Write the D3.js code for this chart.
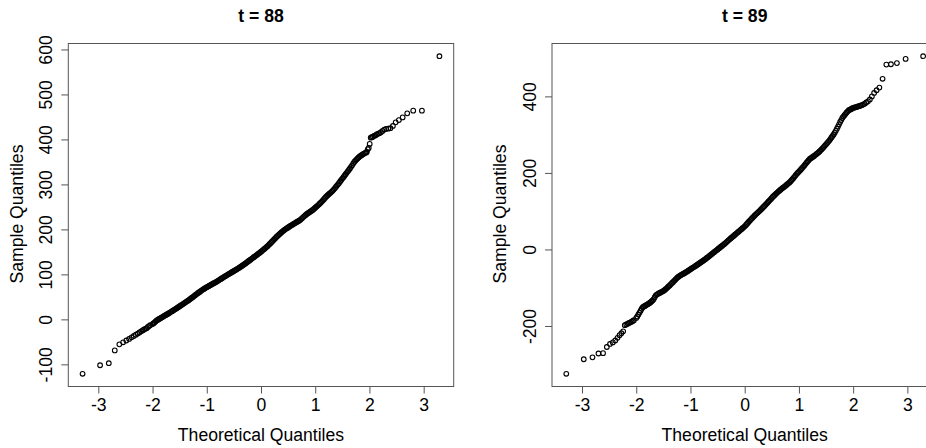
<!DOCTYPE html>
<html>
<head>
<meta charset="utf-8">
<script src="https://cdn.jsdelivr.net/npm/d3@7"></script>
<style>
body { margin: 0; background: #fff; }
text { font-family: "Liberation Sans", Arial, sans-serif; }
</style>
</head>
<body>
<svg id="chart" width="926" height="448"></svg>
<script>
// panel titles
var titles = ["t = 88", "t = 89"];

// theoretical quantiles (shared x positions)
var theoQ = [
    -3.2905, -2.9677, -2.8070, -2.6968, -2.6121, -2.5427, -2.4838, -2.4324, -2.3867, -2.3455,
    -2.3080, -2.2734, -2.2414, -2.2115, -2.1835, -2.1571, -2.1321, -2.1084, -2.0858, -2.0642, -2.0435,
    -2.00, -1.98, -1.96, -1.94, -1.92, -1.90, -1.88, -1.86, -1.84, -1.82,
    -1.80, -1.78, -1.76, -1.74, -1.72, -1.70, -1.68, -1.66, -1.64, -1.62,
    -1.60, -1.58, -1.56, -1.54, -1.52, -1.50, -1.48, -1.46, -1.44, -1.42,
    -1.40, -1.38, -1.36, -1.34, -1.32, -1.30, -1.28, -1.26, -1.24, -1.22,
    -1.20, -1.18, -1.16, -1.14, -1.12, -1.10, -1.08, -1.06, -1.04, -1.02,
    -1.00, -0.98, -0.96, -0.94, -0.92, -0.90, -0.88, -0.86, -0.84, -0.82,
    -0.80, -0.78, -0.76, -0.74, -0.72, -0.70, -0.68, -0.66, -0.64, -0.62,
    -0.60, -0.58, -0.56, -0.54, -0.52, -0.50, -0.48, -0.46, -0.44, -0.42,
    -0.40, -0.38, -0.36, -0.34, -0.32, -0.30, -0.28, -0.26, -0.24, -0.22,
    -0.20, -0.18, -0.16, -0.14, -0.12, -0.10, -0.08, -0.06, -0.04, -0.02,
    0.00, 0.02, 0.04, 0.06, 0.08, 0.10, 0.12, 0.14, 0.16, 0.18,
    0.20, 0.22, 0.24, 0.26, 0.28, 0.30, 0.32, 0.34, 0.36, 0.38,
    0.40, 0.42, 0.44, 0.46, 0.48, 0.50, 0.52, 0.54, 0.56, 0.58,
    0.60, 0.62, 0.64, 0.66, 0.68, 0.70, 0.72, 0.74, 0.76, 0.78,
    0.80, 0.82, 0.84, 0.86, 0.88, 0.90, 0.92, 0.94, 0.96, 0.98,
    1.00, 1.02, 1.04, 1.06, 1.08, 1.10, 1.12, 1.14, 1.16, 1.18,
    1.20, 1.22, 1.24, 1.26, 1.28, 1.30, 1.32, 1.34, 1.36, 1.38,
    1.40, 1.42, 1.44, 1.46, 1.48, 1.50, 1.52, 1.54, 1.56, 1.58,
    1.60, 1.62, 1.64, 1.66, 1.68, 1.70, 1.72, 1.74, 1.76, 1.78,
    1.80, 1.82, 1.84, 1.86, 1.88, 1.90, 1.92, 1.94,
    1.9515, 1.9686, 1.9863, 2.0047, 2.0237, 2.0435, 2.0642, 2.0858, 2.1084, 2.1321,
    2.1571, 2.1835, 2.2115, 2.2414, 2.2734, 2.3080, 2.3455, 2.3867, 2.4324, 2.4838,
    2.5427, 2.6121, 2.6968, 2.8070, 2.9677, 3.2905
];

// sample quantiles, t = 88
var samp88 = [
    -121, -102, -97.5, -69, -55.5, -51, -47, -43.5, -40, -37,
    -34, -31.5, -29, -26.5, -24.5, -22.5, -21, -19.5, -17, -15, -13,
    -10.5, -8.6, -6.5, -4.2, -2.2, -0.6, 0.8, 2.2, 3.6, 5.1,
    6.5, 8.0, 9.4, 10.8, 12.2, 13.6, 15.1, 16.7, 18.2, 19.8,
    21.3, 22.8, 24.4, 26.0, 27.6, 29.2, 30.8, 32.4, 34.0, 35.7,
    37.3, 39.0, 40.6, 42.2, 43.9, 45.8, 47.6, 49.4, 51.3, 53.2,
    55.1, 56.8, 58.6, 60.4, 62.1, 63.9, 65.6, 67.2, 68.7, 70.1,
    71.5, 73.0, 74.4, 75.7, 77.0, 78.4, 79.7, 81.0, 82.3, 83.7,
    85.2, 86.8, 88.4, 89.9, 91.4, 93.0, 94.5, 96.0, 97.4, 98.9,
    100.3, 101.8, 103.2, 104.7, 106.1, 107.6, 109.0, 110.4, 111.9, 113.4,
    115.0, 116.6, 118.2, 119.8, 121.4, 123.2, 125.0, 126.8, 128.6, 130.4,
    132.2, 134.0, 135.8, 137.6, 139.4, 141.2, 143.0, 144.8, 146.5, 148.4,
    150.3, 152.4, 154.5, 156.5, 158.5, 160.6, 162.8, 165.1, 167.5, 170.0,
    172.5, 175.0, 177.5, 180.0, 182.5, 184.9, 187.2, 189.4, 191.5, 193.6,
    195.6, 197.6, 199.5, 201.2, 202.8, 204.4, 206.0, 207.5, 209.0, 210.6,
    212.1, 213.6, 215.0, 216.4, 217.8, 219.3, 220.8, 223.0, 225.2, 227.4,
    229.5, 231.6, 233.7, 235.5, 237.2, 238.9, 240.6, 242.2, 243.9, 246.0,
    248.2, 250.3, 252.5, 254.7, 257.0, 259.4, 261.9, 264.5, 267.2, 269.9,
    272.6, 274.8, 277.0, 279.2, 281.4, 283.5, 285.7, 288.5, 291.3, 294.3,
    297.3, 300.3, 303.3, 306.5, 309.8, 313.0, 316.1, 319.3, 322.6, 325.8,
    329.0, 332.2, 335.4, 339.0, 342.5, 346.3, 350.0, 352.7, 355.2, 357.6,
    360.0, 362.0, 363.8, 365.5, 367.0, 368.5, 370.0, 371.0,
    372, 378, 381, 390, 404, 405, 406, 408, 409, 411,
    412.5, 414, 416, 419, 422, 423.5, 424, 425, 430, 438,
    443, 449, 458, 464, 464, 585
];

// sample quantiles, t = 89
var samp89 = [
    -325, -287, -282, -272, -271, -255, -247, -243, -238, -231,
    -224, -219, -214, -198, -196, -194, -192, -190.5, -189, -187, -185,
    -179, -175, -170, -165, -160, -155, -151, -149, -147.5, -145.8,
    -144, -142.3, -140.5, -138.4, -136, -133.5, -130.5, -125, -120, -118,
    -116, -114.5, -113, -111.5, -110, -108.3, -106.5, -104, -101.5, -98.8,
    -96, -93.3, -90.5, -87.6, -84.8, -81.9, -79, -76.2, -73.4, -71.2,
    -69, -67.4, -65.8, -64.2, -62.6, -60.9, -59.2, -57.4, -55.5, -53.5,
    -51.6, -49.8, -48, -46.1, -44.3, -42.4, -40.6, -38.7, -36.8, -34.8,
    -32.8, -30.8, -28.8, -26.8, -24.7, -22.4, -20.2, -17.9, -15.7, -13.4,
    -11.2, -8.9, -6.7, -4.4, -2.2, 0.1, 2.4, 4.7, 7, 9.2,
    11.5, 13.8, 16.1, 18.6, 21.2, 23.7, 26.3, 28.8, 31.3, 33.6,
    36, 38.4, 40.9, 43.3, 45.8, 48.1, 50.5, 52.9, 55.4, 57.9,
    60.4, 63.5, 66.6, 69.8, 73, 76.2, 79.3, 82.3, 85.3, 88.2,
    91, 93.7, 96.4, 99, 101.6, 104.4, 107.3, 110.2, 113.1, 116.1,
    119.2, 122.2, 125.3, 128.3, 131.4, 134.5, 137.7, 140.5, 143.2, 145.9,
    148.6, 151.2, 153.7, 156, 158.3, 160.5, 162.7, 165, 167.3, 169.7,
    172.1, 174.5, 177, 180.2, 183.5, 187, 190.5, 194, 197.5, 200.5,
    203.5, 206.6, 209.7, 212.8, 216, 219.5, 223, 226.5, 230, 233.3,
    236.5, 238.5, 240.5, 242.5, 244.5, 246.7, 249, 251.2, 253.5, 256.2,
    259, 262, 265, 268.2, 271.5, 274.7, 278, 281.2, 284.5, 288.5,
    292.5, 296.5, 300.5, 305.2, 310, 315.5, 321, 327, 333, 338.2,
    343.5, 347.3, 351, 354.5, 358, 361, 364, 365.5,
    366, 367, 369, 370, 371, 371.5, 372.5, 373.5, 374.5, 375.5,
    377, 378.5, 381, 384, 387, 392, 400, 409, 416, 423,
    446, 483, 484, 487, 498, 505
];

var xTicks = [-3, -2, -1, 0, 1, 2, 3];
var yTicks88 = [-100, 0, 100, 200, 300, 400, 500, 600];
var yTicks89 = [-200, 0, 200, 400];

var screen = {width: 926, height: 448};
var plot = {width: 385.4, top: 43.5, bottom: 386.5};
var fontSize = "17.6px";
var panels = [
    {left: 68.3, title: titles[0], samples: samp88, yTicks: yTicks88},
    {left: 552, title: titles[1], samples: samp89, yTicks: yTicks89}
];

// R style range: data extent widened by 4% each side
var padRange = function(values)
    {
        var ext = d3.extent(values);
        var pad = (ext[1] - ext[0]) * 0.04;
        return [ext[0] - pad, ext[1] + pad];
    };

var svg = d3.select("#chart")
    .attr("width", screen.width)
    .attr("height", screen.height);

svg.append("rect")
    .attr("width", screen.width)
    .attr("height", screen.height)
    .attr("fill", "#fff");

var drawPanel = function(p)
    {
        var g = svg.append("g")
            .attr("transform", "translate(" + p.left + ",0)");

        var xscale = d3.scaleLinear()
            .domain(padRange(theoQ))
            .range([0, plot.width]);
        var yscale = d3.scaleLinear()
            .domain(padRange(p.samples))
            .range([plot.bottom, plot.top]);

        // points
        g.append("g")
            .selectAll("circle")
            .data(d3.zip(theoQ, p.samples))
            .enter()
            .append("circle")
            .attr("cx", function(d) { return xscale(d[0]); })
            .attr("cy", function(d) { return yscale(d[1]); })
            .attr("r", 2.35)
            .attr("fill", "none")
            .attr("stroke", "#000")
            .attr("stroke-width", 1.1);

        // box
        g.append("rect")
            .attr("x", 0)
            .attr("y", plot.top)
            .attr("width", plot.width)
            .attr("height", plot.bottom - plot.top)
            .attr("fill", "none")
            .attr("stroke", "#555")
            .attr("stroke-width", 1);

        // x axis
        var xAxis = g.append("g")
            .attr("transform", "translate(0," + plot.bottom + ")")
            .call(d3.axisBottom(xscale)
                .tickValues(xTicks)
                .tickSize(7)
                .tickPadding(5.2)
                .tickFormat(function(d) { return String(d); }));
        xAxis.select(".domain").remove();
        xAxis.selectAll("line").attr("stroke", "#555");
        xAxis.selectAll("text")
            .attr("fill", "#000")
            .style("font-family", "'Liberation Sans', Arial, sans-serif")
            .style("font-size", fontSize);

        // y axis, labels turned like R's default
        var yAxis = g.append("g")
            .call(d3.axisLeft(yscale)
                .tickValues(p.yTicks)
                .tickSize(7)
                .tickFormat(function(d) { return String(d); }));
        yAxis.select(".domain").remove();
        yAxis.selectAll("line").attr("stroke", "#555");
        yAxis.selectAll("text")
            .attr("x", null)
            .attr("dy", null)
            .attr("text-anchor", "middle")
            .attr("transform", "translate(-16.5,0) rotate(-90)")
            .attr("fill", "#000")
            .style("font-family", "'Liberation Sans', Arial, sans-serif")
            .style("font-size", fontSize);

        // labels
        g.append("text")
            .attr("x", plot.width / 2)
            .attr("y", 441)
            .attr("text-anchor", "middle")
            .style("font-size", fontSize)
            .text("Theoretical Quantiles");

        g.append("text")
            .attr("transform", "translate(-45.8," + 214 + ") rotate(-90)")
            .attr("text-anchor", "middle")
            .style("font-size", fontSize)
            .text("Sample Quantiles");

        g.append("text")
            .attr("x", plot.width / 2)
            .attr("y", 21.7)
            .attr("text-anchor", "middle")
            .style("font-size", fontSize)
            .style("font-weight", "bold")
            .text(p.title);
    };

panels.forEach(drawPanel);
</script>
</body>
</html>
